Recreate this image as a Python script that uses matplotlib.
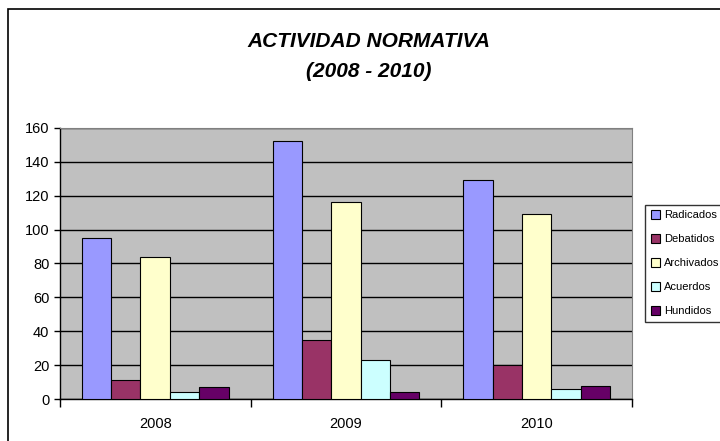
import numpy as np
import matplotlib.pyplot as plt
from matplotlib.patches import Rectangle

plt.rcParams['font.family'] = ['Liberation Sans', 'DejaVu Sans']

years = ['2008', '2009', '2010']
series = ['Radicados', 'Debatidos', 'Archivados', 'Acuerdos', 'Hundidos']
radicados = [95, 152, 129]
debatidos = [11, 35, 20]
archivados = [84, 116, 109]
acuerdos = [4, 23, 6]
hundidos = [7, 4, 7.5]
colors = ['#9999FF', '#993366', '#FFFFCC', '#CCFFFF', '#660066']

values = [radicados, debatidos, archivados, acuerdos, hundidos]

fig = plt.figure(figsize=(7.2, 4.41), dpi=100)
ax = fig.add_axes([0.083, 0.095, 0.795, 0.615])

# outer chart border (right side runs off the image, like the original)
fig.patches.append(Rectangle((0.011, -0.01), 1.2, 0.99, transform=fig.transFigure,
                             fill=False, edgecolor='black', linewidth=1.2))

x = np.arange(len(years))
w = 0.154
for i, (name, vals) in enumerate(zip(series, values)):
    ax.bar(x + (i - 2) * w, vals, w, color=colors[i], edgecolor='black',
           linewidth=0.8, label=name, zorder=3)

ax.set_facecolor('#C0C0C0')
ax.set_ylim(0, 160)
ax.set_xlim(-0.5, 2.5)
ax.set_yticks(range(0, 161, 20))
ax.yaxis.grid(True, color='black', linewidth=1, zorder=0)
ax.set_axisbelow(True)
ax.set_xticks(x)
ax.set_xticklabels(years)
ax.set_xticks([-0.5, 0.5, 1.5, 2.5], minor=True)
ax.tick_params(axis='x', which='major', length=0, pad=13, labelsize=10.5)
ax.tick_params(axis='x', which='minor', length=6, direction='out', width=1)
ax.tick_params(axis='y', length=4, width=1, labelsize=10.5)
for s in ['top', 'right']:
    ax.spines[s].set_color('#808080')
ax.spines['left'].set_linewidth(1)
ax.spines['bottom'].set_linewidth(1)

fig.text(0.5125, 0.907, 'ACTIVIDAD NORMATIVA', ha='center', va='center',
         fontsize=15, fontweight='bold', fontstyle='italic')
fig.text(0.5125, 0.837, '(2008 - 2010)', ha='center', va='center',
         fontsize=15, fontweight='bold', fontstyle='italic')

leg = fig.legend(loc='center left', bbox_to_anchor=(0.896, 0.403), fontsize=8,
                 frameon=True, fancybox=False, edgecolor='black',
                 handlelength=0.8, handleheight=0.8, handletextpad=0.4,
                 labelspacing=1.25, borderpad=0.5, borderaxespad=0)
leg.get_frame().set_linewidth(1)

fig.savefig('out.png', dpi=100)
